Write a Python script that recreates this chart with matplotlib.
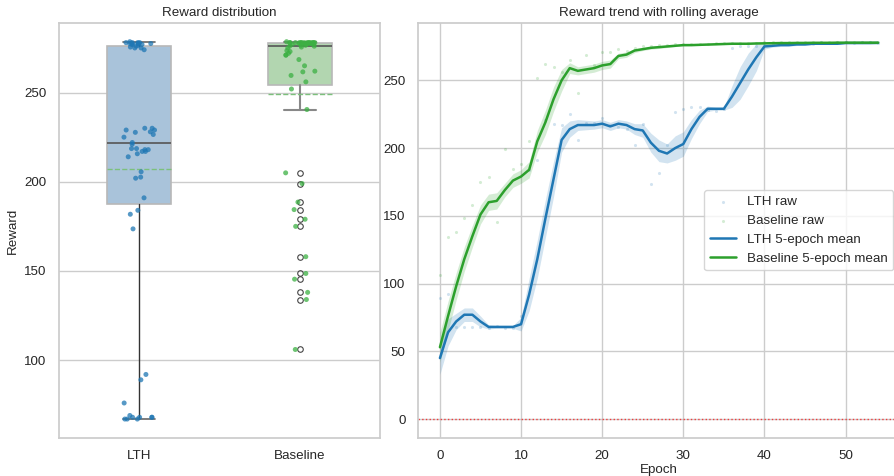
import numpy as np
import pandas as pd
import matplotlib
matplotlib.use("Agg")
import matplotlib.pyplot as plt
import seaborn as sns

# raw reward per epoch
epochs = list(range(55))
lth_raw = [89, 92, 68, 68, 68, 68, 67, 69, 67, 67, 76,
           184, 191, 221, 218, 217, 225, 205.6, 218.6, 218.6, 222, 217, 215.7, 214, 202.6, 218,
           173.6, 181.8, 202, 226.5, 229, 230, 230, 228, 227.7, 229,
           274, 275, 275, 275.5, 276, 276.5, 277, 277, 277.5, 277.5, 277, 278, 277.5, 278,
           278.5, 277.5, 278, 278, 277.5]
base_raw = [106, 134, 138, 148.6, 158, 175, 179, 145.4, 199, 184.4, 188.6, 205,
            252, 262, 259.6, 256, 265, 240.5, 268.5, 261.6, 271, 271, 273, 272, 273.5, 275,
            275.5, 276, 276, 276.5, 276.5, 277, 277, 277, 277.5, 277.5, 277.5, 277.5, 277.5, 277.5,
            278, 278, 278, 278, 278, 278, 278, 278, 278, 278, 278, 278.5, 278, 278, 278]

# 5-epoch rolling mean and band half-width
lth_mean = [45, 64, 72, 77, 77, 72, 68, 68, 68, 68, 70, 92, 118, 148, 177, 206, 214, 217, 217, 217,
            218, 216, 218, 217, 214, 213, 204, 198, 196, 200, 203, 214, 223, 229, 229, 229, 238, 248,
            258, 267, 275, 275.5, 276, 276, 276.5, 276.5, 277, 277, 277, 277, 277.5, 277.5, 277.5,
            277.5, 277.6]
lth_band = [12, 10, 6, 5, 5, 4, 1.5, 1, 1, 1, 5, 12, 14, 14, 13, 9, 6, 4, 3.5, 3, 3, 3, 3, 3, 4, 5,
            7, 8, 7, 9, 9, 7, 5, 2, 1, 1, 8, 12, 12, 10, 2, 1, 1, 0.8, 0.8, 0.6, 0.5, 0.5, 0.4, 0.4,
            0.3, 0.3, 0.3, 0.3, 0.3]
base_mean = [53, 76, 98, 118, 135, 151, 160, 161, 169, 176, 179, 184, 205, 219, 236, 250, 259, 257,
             258, 259, 261, 262, 268, 269, 272, 273, 274, 274.5, 275, 275.5, 276, 276, 276.2, 276.4,
             276.6, 276.8, 277, 277, 277, 277.2, 277.3, 277.4, 277.5, 277.5, 277.6, 277.6, 277.7,
             277.7, 277.7, 277.8, 277.8, 277.8, 277.8, 277.8, 277.8]
base_band = [11, 11, 10, 9, 8, 7, 6, 6, 5, 5, 5, 6, 8, 9, 9, 8, 4, 3, 3, 3, 3, 3, 2, 2, 1.5, 1,
             1, 1, 0.8, 0.6, 0.6, 0.5, 0.5, 0.5, 0.4, 0.4, 0.4, 0.3, 0.3, 0.3, 0.3, 0.3, 0.2, 0.2,
             0.2, 0.2, 0.2, 0.2, 0.2, 0.2, 0.2, 0.2, 0.2, 0.2, 0.2]

groups = ["LTH", "Baseline"]
blue = "#1f77b4"
green = "#2ca02c"

sns.set_theme(style="whitegrid")
plt.rcParams["font.family"] = ["Liberation Sans", "DejaVu Sans"]
plt.rcParams["font.size"] = 9.6

fig = plt.figure(figsize=(8.94, 4.76), dpi=100)
ax1 = fig.add_axes([0.066, 0.080, 0.359, 0.872])
ax2 = fig.add_axes([0.4676, 0.080, 0.539, 0.872])

# left: box plot with strip of raw points
bp = ax1.boxplot([lth_raw, base_raw], positions=[0, 1], widths=0.4, patch_artist=True,
                 showmeans=True, meanline=True,
                 medianprops=dict(color="#555555", lw=1.2),
                 meanprops=dict(color="#7cc07c", ls="--", lw=1),
                 flierprops=dict(marker="o", markerfacecolor="none", markeredgecolor="#444444",
                                 markersize=4, markeredgewidth=0.8))
for patch, c in zip(bp["boxes"], ["#a9c3da", "#b2d6b0"]):
    patch.set_facecolor(c)
    patch.set_edgecolor("#b8b8b8")
    patch.set_linewidth(1.2)
bp["whiskers"][0].set(color="#333333", lw=1)
bp["whiskers"][1].set(color="#333333", lw=1)
bp["caps"][0].set(color="#666666", lw=1.2)
bp["caps"][1].set(color="#666666", lw=1.2)
for w in bp["whiskers"][2:] + bp["caps"][2:]:
    w.set(color="#888888", lw=1.5)

np.random.seed(3)
df = pd.DataFrame({"group": ["LTH"] * len(lth_raw) + ["Baseline"] * len(base_raw),
                   "reward": lth_raw + base_raw})
sns.stripplot(data=df, x="group", y="reward", order=groups, hue="group",
              palette={"LTH": blue, "Baseline": "#3cb043"}, jitter=0.1, size=3.6,
              alpha=0.75, linewidth=0, legend=False, ax=ax1)
ax1.set_xlim(-0.5, 1.5)
ax1.set_xticks([0, 1])
ax1.set_xticklabels(groups)
ax1.set_xlabel("")
ax1.set_ylabel("Reward", fontsize=9.6)
ax1.set_title("Reward distribution", fontsize=9.6, pad=5)
ax1.set_yticks([100, 150, 200, 250])
ax1.tick_params(labelsize=9.6, pad=3)

# right: raw points and rolling mean with band
ax2.scatter(epochs, lth_raw, s=5, color=blue, alpha=0.2, linewidths=0, label="LTH raw")
ax2.scatter(epochs, base_raw, s=5, color=green, alpha=0.2, linewidths=0, label="Baseline raw")
lm, lb = np.array(lth_mean), np.array(lth_band)
bm, bb = np.array(base_mean), np.array(base_band)
ax2.fill_between(epochs, lm - lb, lm + lb, color=blue, alpha=0.2, linewidth=0)
ax2.fill_between(epochs, bm - bb, bm + bb, color=green, alpha=0.2, linewidth=0)
ax2.plot(epochs, lth_mean, color=blue, lw=1.8, label="LTH 5-epoch mean")
ax2.plot(epochs, base_mean, color=green, lw=1.8, label="Baseline 5-epoch mean")
ax2.axhline(0, color="red", ls=":", lw=1, alpha=0.7)
ax2.set_title("Reward trend with rolling average", fontsize=9.6, pad=5)
ax2.set_xlabel("Epoch", fontsize=9.6, labelpad=1)
ax2.set_xticks([0, 10, 20, 30, 40, 50])
ax2.tick_params(labelsize=9.6, pad=3)
ax2.legend(loc="center right", fontsize=9.6, frameon=True)

fig.savefig("out.png", dpi=100)
